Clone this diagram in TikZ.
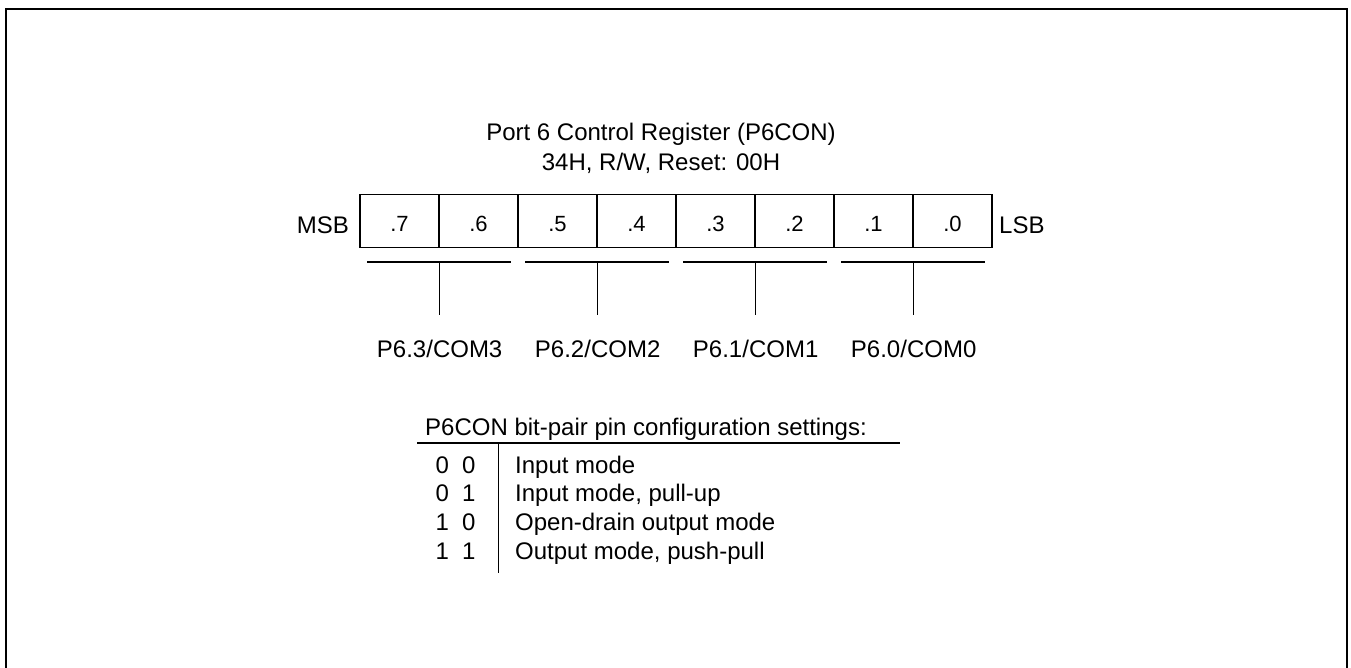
\documentclass[tikz,border=0pt]{standalone}
\usepackage{fontspec}
\setmainfont{Liberation Sans}
\begin{document}
\begin{tikzpicture}[x=1pt,y=-1pt,
  txt/.style={font=\fontsize{24}{29}\selectfont, inner sep=0pt},
  cell/.style={draw, line width=1.3pt, minimum width=79pt, minimum height=53pt, inner sep=0pt},
  celltxt/.style={font=\fontsize{22}{26}\selectfont, inner sep=0pt, anchor=base},
  thin/.style={line width=1.3pt},
  frame/.style={line width=2.5pt}]
\useasboundingbox (0,0) rectangle (1351,667);
% outer frame (open at the bottom)
\coordinate (fbl) at (6,680);
\coordinate (ftl) at (6,9);
\coordinate (ftr) at (1347,9);
\coordinate (fbr) at (1347,680);
\draw[frame] (fbl) -- (ftl) -- (ftr) -- (fbr);
% title
\node[txt, anchor=base] (title1) at (661,140) {Port 6 Control Register (P6CON)};
\node[txt, anchor=base] (title2) at (661,170) {34H, R/W, Reset: 00H};
% register cells
\foreach \i/\b in {0/7,1/6,2/5,3/4,4/3,5/2,6/1,7/0} {
  \node[cell] (c\b) at ({399.5+79*\i},221) {};
  \node[celltxt] (t\b) at ({399.5+79*\i},231) {.\b};
}
\node[txt, anchor=base east] (msb) at (349,233.5) {MSB};
\node[txt, anchor=base west] (lsb) at (999,233.5) {LSB};
% groups
\foreach \g/\hi/\lo in {3/7/6, 2/5/4, 1/3/2, 0/1/0} {
  \coordinate (gl\g) at ([xshift=8pt]c\hi.west |- 0,262);
  \coordinate (gr\g) at ([xshift=-8pt]c\lo.east |- 0,262);
  \coordinate (gm\g) at (c\hi.east |- 0,262);
  \coordinate (ge\g) at (c\hi.east |- 0,315);
  \draw[thin] (gl\g) -- (gr\g);
  \draw[thin] (gm\g) -- (ge\g);
  \node[txt, anchor=base] (lab\g) at (c\hi.east |- 0,357) {P6.\g/COM\g};
}
% settings table
\node[txt, anchor=base west] (head) at (425,435) {P6CON bit-pair pin configuration settings:};
\coordinate (hl) at (417,443);
\coordinate (hr) at (900,443);
\draw[thin] (hl) -- (hr);
\coordinate (vt) at (498.3,443);
\coordinate (vb) at (498.3,573);
\draw[thin] (vt) -- (vb);
\foreach \r/\ba/\bb/\desc in {0/0/0/Input mode, 1/0/1/{Input mode, pull-up}, 2/1/0/Open-drain output mode, 3/1/1/{Output mode, push-pull}} {
  \node[txt, anchor=base west] (bits\r) at (435.5,{473+28.7*\r}) {\ba\hspace{13pt}\bb};
  \node[txt, anchor=base west] (desc\r) at (515,{473+28.7*\r}) {\desc};
}
\end{tikzpicture}
\end{document}
